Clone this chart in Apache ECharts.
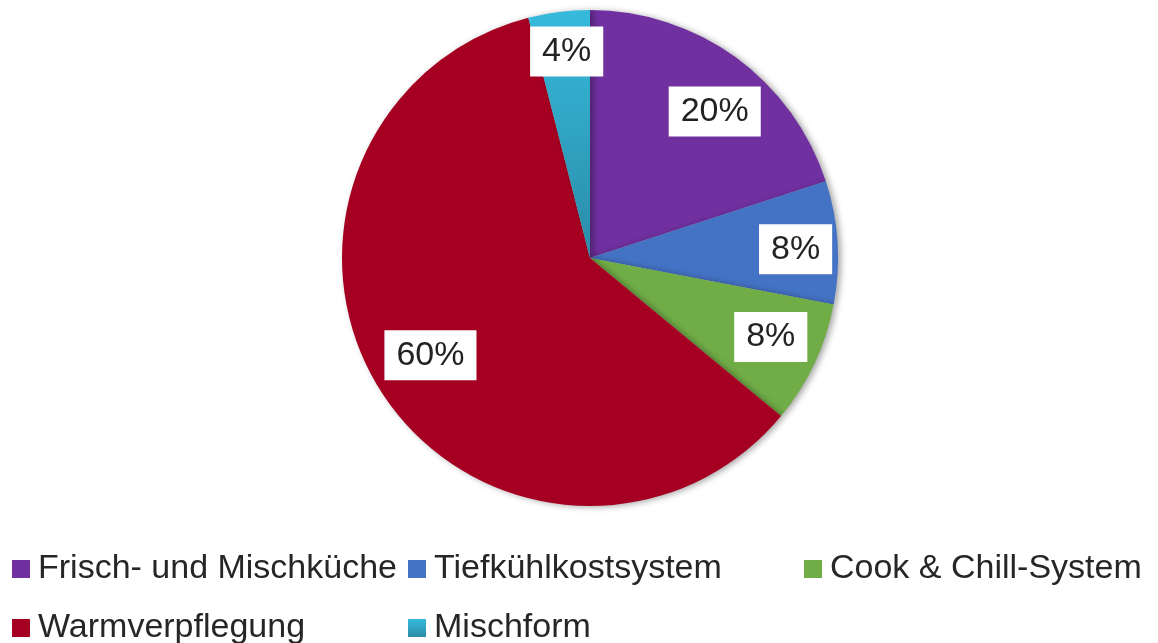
<!DOCTYPE html>
<html>
<head>
<meta charset="utf-8">
<script src="https://cdn.jsdelivr.net/npm/echarts@6/dist/echarts.min.js"></script>
<style>
  html, body { margin: 0; padding: 0; background: #fff; }
  #divPieChart { width: 1158px; height: 643px; }
</style>
</head>
<body>
<div id="divPieChart"></div>
<script>
// Anteile der Verpflegungssysteme (%)
var categories = ["Frisch- und Mischküche", "Tiefkühlkostsystem", "Cook & Chill-System", "Warmverpflegung", "Mischform"];
var shares = [20, 8, 8, 60, 4];
var colors = ["#7030A0", "#4472C4", "#70AD47", "#A50021",
    new echarts.graphic.LinearGradient(0, 0, 0, 1, [{ offset: 0, color: "#36BADC" }, { offset: 1, color: "#2A8CA8" }])];
// kleine Verschiebung der Beschriftungen wie im Original
var labelShift = [[6, 17], [4, 4], [-2, -7], [11, -11], [2, -6]];

var font = "'Liberation Sans', Arial, sans-serif";

var pieData = [];
var labelData = [];
for (var i = 0; i < categories.length; i++) {
    pieData.push({ name: categories[i], value: shares[i], itemStyle: { color: colors[i] } });
    labelData.push({ name: categories[i], value: shares[i], label: { offset: labelShift[i] } });
}

function legendCol(left, names) {
    return {
        orient: 'vertical',
        left: left,
        top: 552,
        height: 110,
        padding: 0,
        itemWidth: 18,
        itemHeight: 18,
        itemGap: 25,
        icon: 'rect',
        data: names,
        selectedMode: false,
        textStyle: { fontFamily: font, fontSize: 34, color: '#262626', lineHeight: 34, padding: [0, 0, 0, 3] }
    };
}

var myChart = echarts.init(document.getElementById('divPieChart'));
var option = {
    animation: false,
    legend: [
        legendCol(12, [categories[0], categories[3]]),
        legendCol(408, [categories[1], categories[4]]),
        legendCol(804, [categories[2]])
    ],
    series: [
        {
            type: 'pie',
            center: [590, 258],
            radius: [0, 248],
            startAngle: 90,
            clockwise: true,
            label: { show: false },
            labelLine: { show: false },
            emphasis: { disabled: true },
            itemStyle: {
                borderWidth: 0,
                shadowBlur: 6,
                shadowOffsetX: 3,
                shadowOffsetY: 1,
                shadowColor: 'rgba(0,0,0,0.35)'
            },
            data: pieData
        },
        {
            // unsichtbarer Ring nur fuer die Beschriftung
            type: 'pie',
            center: [590, 258],
            radius: [150, 248],
            startAngle: 90,
            clockwise: true,
            silent: true,
            emphasis: { disabled: true },
            itemStyle: { color: 'rgba(0,0,0,0)', borderWidth: 0 },
            labelLine: { show: false },
            label: {
                show: true,
                position: 'inside',
                formatter: function (p) { return p.value + '%'; },
                fontFamily: font,
                fontSize: 34,
                color: '#222',
                backgroundColor: '#fff',
                padding: [9, 12, 7, 12]
            },
            data: labelData
        }
    ]
};
myChart.setOption(option);
</script>
</body>
</html>
